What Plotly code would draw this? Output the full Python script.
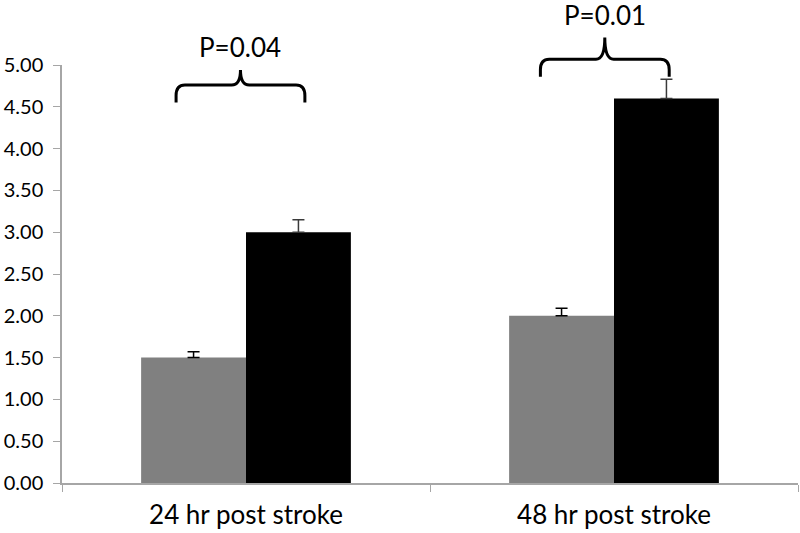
import plotly.graph_objects as go

categories = ["24 hr post stroke", "48 hr post stroke"]
gray_values = [1.50, 2.00]
gray_errors = [0.07, 0.09]
black_values = [3.00, 4.60]
black_errors = [0.15, 0.23]
y_ticks = [0, 0.5, 1, 1.5, 2, 2.5, 3, 3.5, 4, 4.5, 5]
p_labels = ["P=0.04", "P=0.01"]
brace_bar_y = [4.76, 5.07]
brace_end_y = [4.55, 4.86]
brace_peak_y = [4.94, 5.33]
label_y = [5.21, 5.60]
brace_left = [-0.19, -0.20]
brace_right = [0.16, 0.15]

FONT = "Lato"
YMAX = 5.0

fig = go.Figure()
fig.add_trace(go.Bar(
    x=categories, y=gray_values, marker=dict(color="#808080", line=dict(width=0)),
    error_y=dict(type="data", array=gray_errors, arrayminus=[0, 0], symmetric=False,
                 color="#000000", thickness=1.5, width=6),
))
fig.add_trace(go.Bar(
    x=categories, y=black_values, marker=dict(color="#000000", line=dict(width=0)),
    error_y=dict(type="data", array=black_errors, arrayminus=[0, 0], symmetric=False,
                 color="#3a3a3a", thickness=1.5, width=6),
))

ncat = len(categories)
def xp(idx, off):
    return (idx + 0.5 + off) / ncat

def yp(v):
    return v / YMAX

shapes = []
annotations = []
for i in range(ncat):
    x0 = xp(i, brace_left[i]); x1 = xp(i, brace_right[i]); xm = (x0 + x1) / 2
    yb = yp(brace_bar_y[i]); ye = yp(brace_end_y[i]); yk = yp(brace_peak_y[i])
    dx = 0.012; dy = (yb - ye) * 0.6
    path = (f"M {x0},{ye} L {x0},{yb - dy} Q {x0},{yb} {x0 + dx},{yb} "
            f"L {xm - dx},{yb} Q {xm},{yb} {xm},{yk} "
            f"Q {xm},{yb} {xm + dx},{yb} L {x1 - dx},{yb} "
            f"Q {x1},{yb} {x1},{yb - dy} L {x1},{ye}")
    shapes.append(dict(type="path", path=path, xref="paper", yref="paper",
                       line=dict(color="#000000", width=3)))
    annotations.append(dict(text=p_labels[i], x=xm, y=yp(label_y[i]), xref="paper", yref="paper",
                            showarrow=False, font=dict(family=FONT, size=26, color="#000000"),
                            xanchor="center", yanchor="middle"))

fig.update_layout(
    width=800, height=533,
    margin=dict(l=62, r=2, t=65, b=50, autoexpand=False),
    paper_bgcolor="white", plot_bgcolor="white",
    barmode="group", bargap=0.43, bargroupgap=0,
    showlegend=False,
    shapes=shapes, annotations=annotations,
    font=dict(family=FONT, color="#000000"),
)
fig.update_xaxes(
    automargin=False,
    showline=True, linecolor="#a6a6a6", linewidth=1.5,
    ticks="outside", tickson="boundaries", ticklen=7, tickcolor="#a6a6a6",
    ticklabelstandoff=8,
    showgrid=False, tickfont=dict(family=FONT, size=26, color="#000000"),
)
fig.update_yaxes(
    automargin=False,
    range=[0, YMAX], tickvals=y_ticks, tickformat=".2f",
    showline=True, linecolor="#a6a6a6", linewidth=1.5,
    ticks="outside", ticklen=7, tickcolor="#a6a6a6",
    ticklabelstandoff=6,
    showgrid=False, zeroline=False,
    tickfont=dict(family=FONT, size=20, color="#000000"),
)

fig.write_html("out.html", config={"displayModeBar": False},
               post_script="document.body.style.margin='0';")
